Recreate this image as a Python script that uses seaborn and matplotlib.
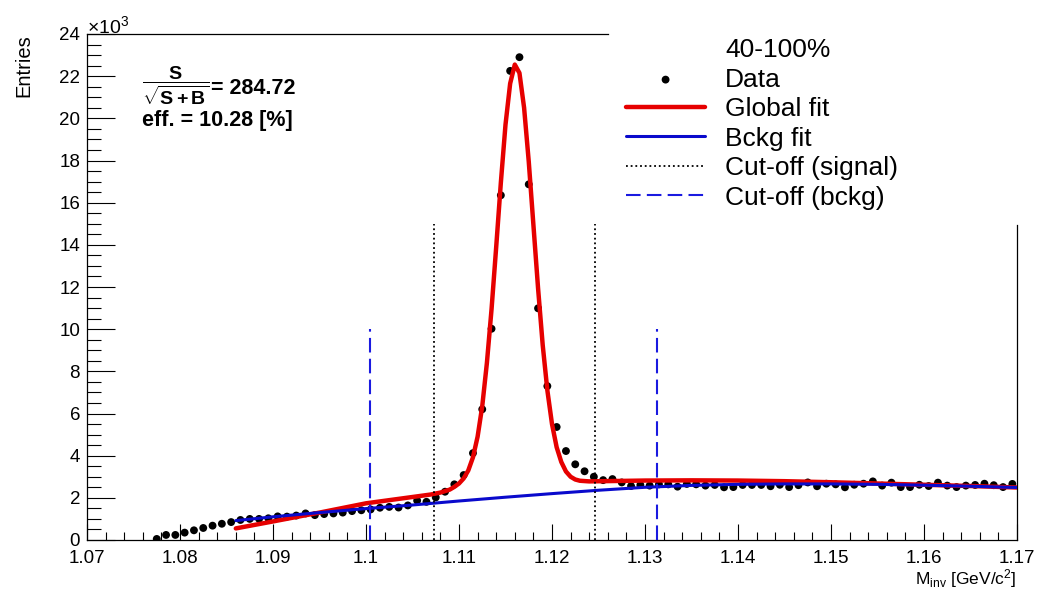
import numpy as np
import pandas as pd
import matplotlib
matplotlib.use("Agg")
import matplotlib.pyplot as plt
from matplotlib.ticker import MultipleLocator
import seaborn as sns

# ---------------- data (entries in units of 10^3) ----------------
bin_low_edge = 1.077
bin_width = 0.001
entries = [0.05, 0.24, 0.24, 0.35, 0.46, 0.57, 0.68, 0.77, 0.85, 0.95,
           1.00, 1.00, 1.03, 1.12, 1.11, 1.16, 1.26, 1.18, 1.23, 1.26,
           1.30, 1.37, 1.41, 1.45, 1.53, 1.57, 1.54, 1.64, 1.87, 1.81,
           2.02, 2.29, 2.64, 3.08, 4.12,
           6.20, 10.02, 16.35, 22.25, 22.90, 16.87, 10.99, 7.30, 5.36, 4.22,
           3.59, 3.26, 3.00,
           2.84, 2.89, 2.73, 2.56, 2.61, 2.58, 2.64, 2.64, 2.53, 2.66,
           2.64, 2.58, 2.61, 2.50, 2.51, 2.61, 2.61, 2.61, 2.55, 2.62,
           2.51, 2.60, 2.73, 2.55, 2.67, 2.64, 2.50, 2.62, 2.67, 2.78,
           2.58, 2.72, 2.51, 2.51, 2.62, 2.56, 2.72, 2.58, 2.51, 2.58,
           2.61, 2.67, 2.60, 2.51, 2.66]
bin_centers = np.round(bin_low_edge + bin_width * (np.arange(len(entries)) + 0.5), 4)

global_fit_x = [1.0860, 1.0900, 1.0950, 1.1000, 1.1040, 1.1070, 1.1080, 1.1085,
                1.1090, 1.1095, 1.1100, 1.1105, 1.1110, 1.1115, 1.1120, 1.1125,
                1.1130, 1.1135, 1.1140, 1.1145, 1.1150, 1.1155, 1.1160, 1.1165,
                1.1170, 1.1175, 1.1180, 1.1185, 1.1190, 1.1195, 1.1200, 1.1205,
                1.1210, 1.1215, 1.1220, 1.1225, 1.1230, 1.1240, 1.1300, 1.1350,
                1.1400, 1.1450, 1.1500, 1.1550, 1.1600, 1.1650, 1.1700]
global_fit_y = [0.55, 0.88, 1.30, 1.74, 1.98, 2.16, 2.25, 2.32,
                2.39, 2.52, 2.68, 2.92, 3.30, 3.92, 4.90, 6.35,
                8.40, 10.95, 13.90, 16.95, 19.70, 21.65, 22.55, 22.15,
                20.50, 17.95, 14.95, 11.95, 9.25, 7.10, 5.50, 4.40,
                3.70, 3.25, 3.00, 2.87, 2.81, 2.78, 2.82, 2.83,
                2.82, 2.79, 2.74, 2.68, 2.62, 2.56, 2.49]

bckg_fit_x = [1.086, 1.090, 1.095, 1.100, 1.105, 1.110, 1.115, 1.120, 1.125,
              1.130, 1.135, 1.140, 1.145, 1.150, 1.155, 1.160, 1.165, 1.170]
bckg_fit_y = [0.92, 1.10, 1.30, 1.49, 1.66, 1.85, 2.03, 2.20, 2.36,
              2.50, 2.59, 2.64, 2.66, 2.66, 2.64, 2.60, 2.55, 2.49]

signal_cut = [1.1073, 1.1246]
signal_cut_height = 15.0
bckg_cut = [1.1004, 1.1313]
bckg_cut_height = 10.0

x_ticks = [1.07, 1.08, 1.09, 1.10, 1.11, 1.12, 1.13, 1.14, 1.15, 1.16, 1.17]
x_tick_labels = ["1.07", "1.08", "1.09", "1.1", "1.11", "1.12", "1.13",
                 "1.14", "1.15", "1.16", "1.17"]
y_ticks = [0, 2, 4, 6, 8, 10, 12, 14, 16, 18, 20, 22, 24]
y_tick_labels = [str(v) for v in y_ticks]

significance_fraction = r"$\dfrac{\mathbf{S}}{\sqrt{\mathbf{S+B}}}$"
significance_value = "= 284.72"
eff_text = "eff. = 10.28 [%]"
centrality = "40-100%"

# ---------------- style ----------------
sns.set_style("white")
plt.rcParams["font.family"] = ["Liberation Sans", "DejaVu Sans"]
plt.rcParams["mathtext.fontset"] = "custom"
plt.rcParams["mathtext.rm"] = "Liberation Sans"
plt.rcParams["mathtext.it"] = "Liberation Sans:italic"
plt.rcParams["mathtext.bf"] = "Liberation Sans:bold"
for key in ["text.color", "axes.labelcolor", "xtick.color", "ytick.color",
            "axes.edgecolor"]:
    plt.rcParams[key] = "black"

W, H = 1037, 591
fig = plt.figure(figsize=(W / 100, H / 100), dpi=100)
fig.patch.set_facecolor("white")
ax = fig.add_axes([87 / W, 51 / H, 930 / W, 506 / H])
ax.set_facecolor("white")

data = pd.DataFrame({"m": bin_centers, "n": entries})
gfit = pd.DataFrame({"m": global_fit_x, "n": global_fit_y})
bfit = pd.DataFrame({"m": bckg_fit_x, "n": bckg_fit_y})

sns.scatterplot(data=data, x="m", y="n", ax=ax, color="black", s=32,
                linewidth=0, edgecolor="none", label="Data", zorder=2)
sns.lineplot(data=gfit, x="m", y="n", ax=ax, color="#e60000", lw=3.2,
             sort=False, label="Global fit", zorder=3)
sns.lineplot(data=bfit, x="m", y="n", ax=ax, color="#0a0acc", lw=2.2,
             sort=False, label="Bckg fit", zorder=4)
ax.vlines(signal_cut, 0, signal_cut_height, colors="black",
          linestyles=(0, (1, 1.6)), lw=1.3, label="Cut-off (signal)", zorder=5)
ax.vlines(bckg_cut, 0, bckg_cut_height, colors="#1a1ae0",
          linestyles=(0, (7, 3)), lw=1.5, label="Cut-off (bckg)", zorder=5)

ax.set_xlim(1.07, 1.17)
ax.set_ylim(0, 24)
ax.set_xticks(x_ticks)
ax.set_xticklabels(x_tick_labels)
ax.set_yticks(y_ticks)
ax.set_yticklabels(y_tick_labels)
ax.xaxis.set_minor_locator(MultipleLocator(0.002))
ax.yaxis.set_minor_locator(MultipleLocator(0.5))
ax.tick_params(which="both", bottom=True, left=True, top=False, right=False)
ax.tick_params(axis="x", which="major", direction="in", length=11.5, width=0.8,
               labelsize=13.5, pad=7, color="black", labelcolor="black")
ax.tick_params(axis="x", which="minor", direction="in", length=5.8, width=0.8,
               color="black")
ax.tick_params(axis="y", which="major", direction="in", length=20, width=0.8,
               labelsize=13.5, pad=5, color="black", labelcolor="black")
ax.tick_params(axis="y", which="minor", direction="in", length=10, width=0.8,
               color="black")

for s in ax.spines.values():
    s.set_color("black")
    s.set_linewidth(0.9)
ax.spines["top"].set_bounds(1.07, 1.126)
ax.spines["right"].set_bounds(0, 14.95)

ax.set_xlabel(r"M$_{\mathrm{inv}}$ [GeV/c$^{2}$]", fontsize=12.5, loc="right")
ax.xaxis.set_label_coords(1.0, -0.054)
ax.set_ylabel("Entries", fontsize=14.5, loc="top")
ax.yaxis.set_label_coords(-0.058, 1.0)

ax.text(0.0, 1.002, r"$\times$10$^{3}$", transform=ax.transAxes,
        ha="left", va="baseline", fontsize=14)
ax.text(0.059, 0.897, significance_fraction, transform=ax.transAxes,
        ha="left", va="center", fontsize=14, fontweight="bold")
ax.text(0.133, 0.893, significance_value, transform=ax.transAxes,
        ha="left", va="center", fontsize=15.5, fontweight="bold")
ax.text(0.059, 0.830, eff_text, transform=ax.transAxes,
        ha="left", va="center", fontsize=15.5, fontweight="bold")

handles, labels = ax.get_legend_handles_labels()
if ax.get_legend() is not None:
    ax.get_legend().remove()
leg = ax.legend(handles, labels, title=centrality, fontsize=19, title_fontsize=19,
                frameon=False, handlelength=3.0, handletextpad=0.76,
                labelspacing=0.21, borderpad=0, borderaxespad=0,
                loc="upper left", bbox_to_anchor=(626 / W, 1 - 38 / H),
                bbox_transform=fig.transFigure, scatterpoints=1)
leg.get_title().set_position((16, 0))

fig.savefig("out.png", dpi=100, facecolor="white")
